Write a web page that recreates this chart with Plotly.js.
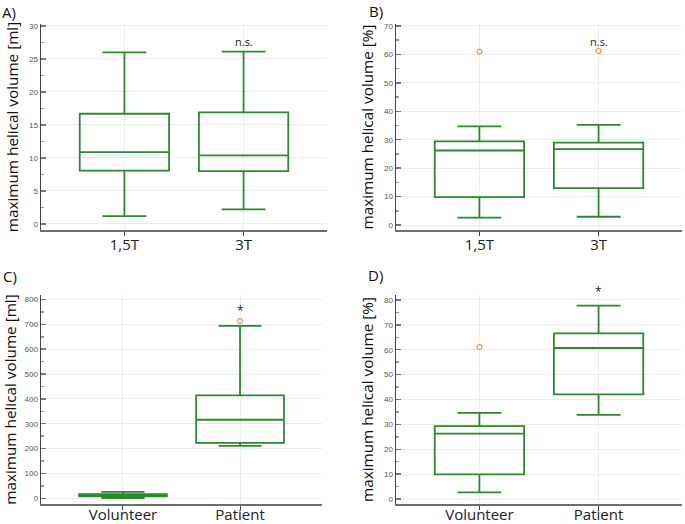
<!DOCTYPE html>
<html>
<head>
<meta charset="utf-8">
<script src="https://cdn.plot.ly/plotly-3.0.1.min.js"></script>
<style>html,body{margin:0;padding:0;background:#fff;}#chart{width:685px;height:524px;}</style>
</head>
<body>
<div id="chart"></div>
<script>
// ---- data ----
const fieldCats = ['1,5T', '3T'];
const mlFieldLower  = [1.2, 2.2];
const mlFieldQ1     = [8.1, 8.0];
const mlFieldMedian = [10.9, 10.4];
const mlFieldQ3     = [16.7, 16.9];
const mlFieldUpper  = [26.0, 26.1];

const pctFieldLower  = [2.6, 2.9];
const pctFieldQ1     = [9.8, 13.0];
const pctFieldMedian = [26.2, 26.7];
const pctFieldQ3     = [29.4, 29.0];
const pctFieldUpper  = [34.7, 35.2];
const pctFieldOutlierX = ['1,5T', '3T'];
const pctFieldOutlierY = [61.0, 61.2];

const groupCats = ['Volunteer', 'Patient'];
const mlGroupLower  = [1.2, 211];
const mlGroupQ1     = [8.1, 223];
const mlGroupMedian = [10.9, 316];
const mlGroupQ3     = [16.7, 414];
const mlGroupUpper  = [26.0, 694];
const mlGroupOutlierX = ['Patient'];
const mlGroupOutlierY = [714];

const pctGroupLower  = [2.7, 33.8];
const pctGroupQ1     = [9.9, 42.1];
const pctGroupMedian = [26.3, 60.7];
const pctGroupQ3     = [29.3, 66.6];
const pctGroupUpper  = [34.6, 77.7];
const pctGroupOutlierX = ['Volunteer'];
const pctGroupOutlierY = [61.1];

const panelLabels = ['A)', 'B)', 'C)', 'D)'];
const yTitles = ['maximum helical volume [ml]', 'maximum helical volume [%]',
                 'maximum helical volume [ml]', 'maximum helical volume [%]'];
const sigTexts = ['n.s.', 'n.s.', '*', '*'];

// ---- styling ----
const GREEN = '#2b8a2b';
const ORANGE = '#f0904a';

function boxTrace(xa, ya, cats, lo, q1, med, q3, up) {
  return {
    type: 'box', xaxis: xa, yaxis: ya, x: cats,
    lowerfence: lo, q1: q1, median: med, q3: q3, upperfence: up,
    line: {color: GREEN, width: 1.8},
    fillcolor: 'rgba(255,255,255,0)',
    whiskerwidth: 0.49, boxpoints: false, showlegend: false, hoverinfo: 'skip'
  };
}
function outTrace(xa, ya, xs, ys) {
  return {
    type: 'scatter', mode: 'markers', xaxis: xa, yaxis: ya, x: xs, y: ys,
    marker: {symbol: 'circle-open', size: 5, color: ORANGE, line: {width: 1.2, color: ORANGE}},
    showlegend: false, hoverinfo: 'skip', cliponaxis: false
  };
}

const data = [
  boxTrace('x', 'y', fieldCats, mlFieldLower, mlFieldQ1, mlFieldMedian, mlFieldQ3, mlFieldUpper),
  boxTrace('x2', 'y2', fieldCats, pctFieldLower, pctFieldQ1, pctFieldMedian, pctFieldQ3, pctFieldUpper),
  outTrace('x2', 'y2', pctFieldOutlierX, pctFieldOutlierY),
  boxTrace('x3', 'y3', groupCats, mlGroupLower, mlGroupQ1, mlGroupMedian, mlGroupQ3, mlGroupUpper),
  outTrace('x3', 'y3', mlGroupOutlierX, mlGroupOutlierY),
  boxTrace('x4', 'y4', groupCats, pctGroupLower, pctGroupQ1, pctGroupMedian, pctGroupQ3, pctGroupUpper),
  outTrace('x4', 'y4', pctGroupOutlierX, pctGroupOutlierY)
];

const W = 685, H = 524;
function xAxis(cats, left, right, anchor, standoff) {
  return {
    domain: [left / W, right / W], anchor: anchor, type: 'category',
    categoryorder: 'array', categoryarray: cats, range: [-0.7, 1.7],
    showline: true, linecolor: '#6f6f6f', linewidth: 2,
    ticks: 'outside', ticklen: 4, tickcolor: '#444', tickwidth: 1,
    ticklabelstandoff: standoff,
    showgrid: true, gridcolor: '#ececec', gridwidth: 1, zeroline: false,
    tickfont: {family: 'Open Sans', size: 15, color: '#222'}, fixedrange: true
  };
}
function yAxis(title, top, bottom, range, dtick, anchor) {
  return {
    domain: [1 - bottom / H, 1 - top / H], anchor: anchor, range: range,
    dtick: dtick, tick0: 0,
    showline: true, linecolor: '#444', linewidth: 1.5,
    ticks: 'inside', ticklen: 5, tickcolor: '#777', tickwidth: 1.5,
    minor: {ticks: 'inside', ticklen: 3, tickcolor: '#999', dtick: dtick / 2, showgrid: false},
    showgrid: true, gridcolor: '#ececec', gridwidth: 1, zeroline: false,
    tickfont: {family: 'Liberation Sans', size: 8, color: '#555'},
    title: {text: title, font: {family: 'Open Sans', size: 15.3, color: '#111'}, standoff: 6},
    fixedrange: true
  };
}

const layout = {
  width: W, height: H,
  margin: {l: 0, r: 0, t: 0, b: 0},
  paper_bgcolor: '#fff', plot_bgcolor: '#fff',
  boxgap: 0.25, boxgroupgap: 0,
  xaxis:  xAxis(fieldCats, 41, 327, 'y', -4),
  yaxis:  yAxis(yTitles[0], 24, 230, [-0.91, 30.3], 5, 'x'),
  xaxis2: xAxis(fieldCats, 396, 682, 'y2', -4),
  yaxis2: yAxis(yTitles[1], 24, 230, [-1.76, 70.7], 10, 'x2'),
  xaxis3: xAxis(groupCats, 41, 322, 'y3', -8),
  yaxis3: yAxis(yTitles[2], 295, 504, [-23, 818], 100, 'x3'),
  xaxis4: xAxis(groupCats, 396, 682, 'y4', -8),
  yaxis4: yAxis(yTitles[3], 295, 504, [-2.0, 82.0], 10, 'x4'),
  annotations: [
    {text: panelLabels[0], xref: 'paper', yref: 'paper', x: 0 / W, y: 1 - 12 / H, xanchor: 'left', yanchor: 'middle', showarrow: false, font: {family: 'Open Sans', size: 15, color: '#111'}},
    {text: panelLabels[1], xref: 'paper', yref: 'paper', x: 367 / W, y: 1 - 11 / H, xanchor: 'left', yanchor: 'middle', showarrow: false, font: {family: 'Open Sans', size: 15, color: '#111'}},
    {text: panelLabels[2], xref: 'paper', yref: 'paper', x: 1 / W, y: 1 - 276 / H, xanchor: 'left', yanchor: 'middle', showarrow: false, font: {family: 'Open Sans', size: 15, color: '#111'}},
    {text: panelLabels[3], xref: 'paper', yref: 'paper', x: 366 / W, y: 1 - 275 / H, xanchor: 'left', yanchor: 'middle', showarrow: false, font: {family: 'Open Sans', size: 15, color: '#111'}},
    {text: sigTexts[0], xref: 'x', yref: 'y', x: '3T', y: 27.6, yanchor: 'middle', showarrow: false, font: {family: 'Open Sans', size: 11, color: '#222'}},
    {text: sigTexts[1], xref: 'x2', yref: 'y2', x: '3T', y: 64.7, yanchor: 'middle', showarrow: false, font: {family: 'Open Sans', size: 11, color: '#222'}},
    {text: sigTexts[2], xref: 'x3', yref: 'y3', x: 'Patient', y: 755, yanchor: 'middle', showarrow: false, font: {family: 'Open Sans', size: 12, color: '#222'}},
    {text: sigTexts[3], xref: 'x4', yref: 'y4', x: 'Patient', y: 80, yshift: 8, yanchor: 'middle', showarrow: false, font: {family: 'Open Sans', size: 12, color: '#222'}}
  ]
};

Plotly.newPlot('chart', data, layout, {displayModeBar: false, staticPlot: true});
</script>
</body>
</html>
